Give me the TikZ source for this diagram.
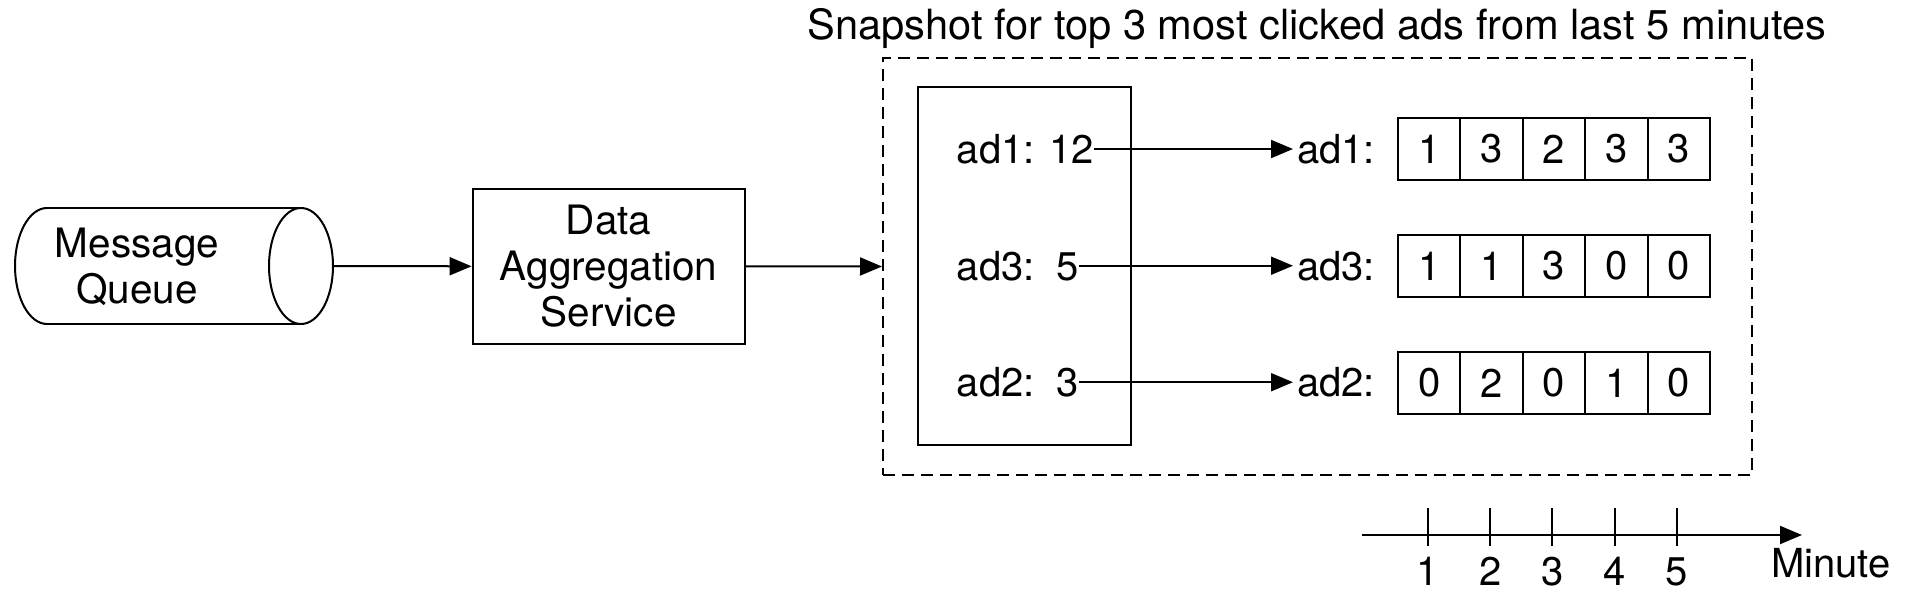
\documentclass[tikz,border=0pt]{standalone}
\usepackage{fontspec}
\setmainfont{TeX Gyre Heros}
\usetikzlibrary{arrows.meta}
\begin{document}
\begin{tikzpicture}[x=1pt,y=-1pt,
  every node/.style={font=\fontsize{40pt}{48pt}\selectfont},
  line/.style={line width=2pt},
  arr/.style={line width=2pt,-{Triangle[length=22pt,width=18pt]}},
  box/.style={draw,line width=2pt,inner sep=0pt},
  cell/.style={draw,line width=2pt,minimum width=62.4pt,minimum height=62pt,inner sep=0pt},
  lab/.style={anchor=base west,inner sep=0pt},
  rlab/.style={anchor=base west,inner ysep=0pt,inner xsep=4pt}]
\useasboundingbox (0,0) rectangle (1920,602);

% Message queue (cylinder)
\node[minimum width=318pt,minimum height=116pt,inner sep=0pt] (mq) at (174,266) {};
\draw[line] (47,208) -- (301,208) (47,324) -- (301,324);
\draw[line] (47,208) .. controls (29.3,208) and (15,234) .. (15,266)
                     .. controls (15,298) and (29.3,324) .. (47,324);
\draw[line] (301,266) ellipse[x radius=32,y radius=58];
\node[align=center,font=\fontsize{40.5pt}{46pt}\selectfont] (mqt) at (137,267) {Message\\Queue};

% Data aggregation service
\node[box,minimum width=272pt,minimum height=155pt,align=center,
      font=\fontsize{40.5pt}{46pt}\selectfont] (das) at (608.6,266.3) {Data\\Aggregation\\Service};

% Snapshot dashed box
\node[draw,line width=2pt,dash pattern=on 12pt off 7pt,minimum width=869pt,
      minimum height=417pt,inner sep=0pt] (snap) at (1317.5,266.5) {};
\node[anchor=base,font=\fontsize{41.6pt}{48pt}\selectfont] (title) at (1317,40) {Snapshot for top 3 most clicked ads from last 5 minutes};

% top list box
\node[box,minimum width=213pt,minimum height=358pt] (list) at (1024.5,266) {};
\node[lab] (l1) at (956.7,163.3) {ad1: 12};
\node[lab] (l3) at (956.7,280) {ad3:\ \ 5};
\node[lab] (l2) at (956.7,396.5) {ad2:\ \ 3};

% right labels
\node[rlab] (r1) at (1293,163.3) {ad1:};
\node[rlab] (r3) at (1293,280) {ad3:};
\node[rlab] (r2) at (1293,396.5) {ad2:};

% arrays
\foreach \v [count=\i] in {1,3,2,3,3}
  \node[cell] (a\i) at ({1429.2+62.4*(\i-1)},149) {\v};
\foreach \v [count=\i] in {1,1,3,0,0}
  \node[cell] (b\i) at ({1429.2+62.4*(\i-1)},266) {\v};
\foreach \v [count=\i] in {0,2,0,1,0}
  \node[cell] (c\i) at ({1429.2+62.4*(\i-1)},383) {\v};

% connectors
\draw[arr] (mq.east) -- (das.west);
\draw[arr] (das.east) -- (snap.west);
\draw[arr] (l1.east) -- (r1.west);
\draw[arr] (l3.east) -- (r3.west);
\draw[arr] (l2.east) -- (r2.west);

% timeline
\coordinate (t0) at (1362,535);
\coordinate (t1) at (1802,535);
\draw[arr] (t0) -- (t1);
\foreach \n in {1,...,5} {
  \node[anchor=base] (m\n) at ({1428+62.2*(\n-1)},585) {\n};
  \draw[line] ({1428+62.2*(\n-1)},508) -- ({1428+62.2*(\n-1)},546);
}
\node[anchor=base west,inner sep=0pt] (minute) at (1771,577) {Minute};
\end{tikzpicture}
\end{document}
